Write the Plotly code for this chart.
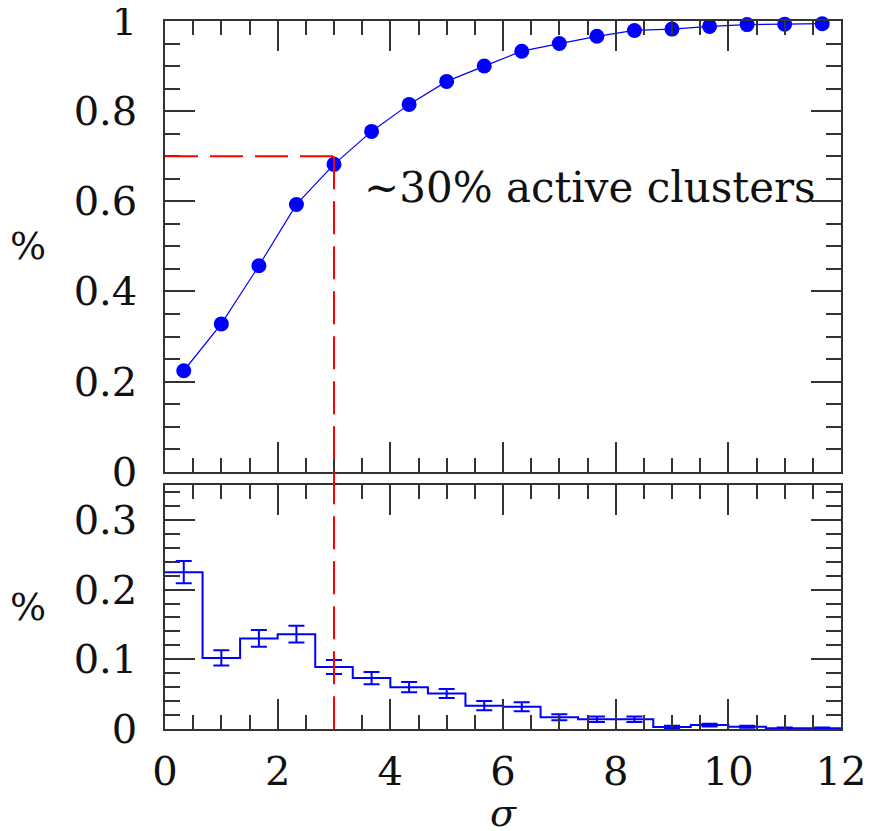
import plotly.graph_objects as go

# ---------------- data ----------------
sigma_centers = [0.333, 1.0, 1.667, 2.333, 3.0, 3.667, 4.333, 5.0, 5.667,
                 6.333, 7.0, 7.667, 8.333, 9.0, 9.667, 10.333, 11.0, 11.667]
cumulative_frac = [0.224, 0.328, 0.457, 0.593, 0.682, 0.755, 0.815, 0.866, 0.900,
                   0.933, 0.950, 0.966, 0.979, 0.982, 0.988, 0.992, 0.993, 0.994]

bin_edges = [0.0, 0.667, 1.333, 2.0, 2.667, 3.333, 4.0, 4.667, 5.333,
             6.0, 6.667, 7.333, 8.0, 8.667, 9.333, 10.0, 10.667, 11.333, 12.0]
hist_frac = [0.225, 0.102, 0.130, 0.136, 0.089, 0.073, 0.060, 0.051, 0.0335,
             0.032, 0.017, 0.014, 0.014, 0.003, 0.0057, 0.0033, 0.001, 0.001]
hist_err = [0.016, 0.011, 0.012, 0.012, 0.010, 0.0087, 0.0074, 0.0065, 0.0065,
            0.0065, 0.0043, 0.0038, 0.0038, 0.0015, 0.002, 0.0015, 0.001, 0.001]

threshold_sigma = 3.0
threshold_frac = 0.7
annotation_text = "∼30% active clusters"
x_ticks = [0, 2, 4, 6, 8, 10, 12]
top_y_ticks = [0, 0.2, 0.4, 0.6, 0.8, 1]
top_y_labels = ["0", "0.2", "0.4", "0.6", "0.8", "1"]
bot_y_ticks = [0, 0.1, 0.2, 0.3]
bot_y_labels = ["0", "0.1", "0.2", "0.3"]

# ---------------- style ----------------
FONT = "DejaVu Serif"
BLUE = "#0000ff"
RED = "#ff0000"
FRAME = "#333333"
TEXT = "#111111"
TOP_DOMAIN = [0.3634, 1.0]
BOT_DOMAIN = [0.0, 0.3446]
TOP_RANGE = [0, 1]
BOT_RANGE = [0, 0.35]

fig = go.Figure()

# top: cumulative fraction
fig.add_trace(go.Scatter(
    x=sigma_centers, y=cumulative_frac, mode="lines+markers",
    line=dict(color=BLUE, width=1.2),
    marker=dict(color=BLUE, size=15),
    xaxis="x", yaxis="y", showlegend=False, hoverinfo="skip", cliponaxis=False))

# bottom: histogram steps
step_x = bin_edges
step_y = hist_frac + [hist_frac[-1]]
fig.add_trace(go.Scatter(
    x=step_x, y=step_y, mode="lines", line=dict(color=BLUE, width=2, shape="hv"),
    xaxis="x2", yaxis="y2", showlegend=False, hoverinfo="skip"))

fig.add_trace(go.Scatter(
    x=sigma_centers, y=hist_frac, mode="markers",
    marker=dict(size=1, color="rgba(0,0,0,0)"),
    error_y=dict(type="data", array=hist_err, color=BLUE, thickness=2, width=8),
    xaxis="x2", yaxis="y2", showlegend=False, hoverinfo="skip"))

axis_common = dict(
    showline=True, linecolor=FRAME, linewidth=1.5, mirror="allticks",
    ticks="inside", ticklen=30, tickwidth=1.5, tickcolor=FRAME,
    showgrid=False, zeroline=False, automargin=False, ticklabeloverflow="allow",
    tickfont=dict(family=FONT, size=40, color=TEXT),
)
minor_x = dict(dtick=0.5, ticklen=14, tickwidth=1.5, tickcolor=FRAME, ticks="inside")

top_y_px = TOP_DOMAIN[0] + (threshold_frac - TOP_RANGE[0]) / (TOP_RANGE[1] - TOP_RANGE[0]) * (TOP_DOMAIN[1] - TOP_DOMAIN[0])

fig.update_layout(
    width=871, height=831,
    margin=dict(l=157, r=37.5, t=13, b=110, autoexpand=False),
    paper_bgcolor="white", plot_bgcolor="white",
    xaxis=dict(axis_common, domain=[0, 1], anchor="y", range=[0, 12],
               tickvals=x_ticks, showticklabels=False, minor=minor_x),
    yaxis=dict(axis_common, domain=TOP_DOMAIN, anchor="x", range=TOP_RANGE,
               tickvals=top_y_ticks, ticktext=top_y_labels, ticklabelstandoff=18,
               minor=dict(dtick=0.05, ticklen=15, tickwidth=1.5, tickcolor=FRAME, ticks="inside")),
    xaxis2=dict(axis_common, domain=[0, 1], anchor="y2", range=[0, 12],
                tickvals=x_ticks, ticklabelstandoff=6, minor=minor_x),
    yaxis2=dict(axis_common, domain=BOT_DOMAIN, anchor="x2", range=BOT_RANGE,
                tickvals=bot_y_ticks, ticktext=bot_y_labels, ticklabelstandoff=18,
                minor=dict(dtick=0.02, ticklen=15, tickwidth=1.5, tickcolor=FRAME, ticks="inside")),
    shapes=[
        dict(type="line", xref="x", yref="y", x0=0, x1=threshold_sigma,
             y0=threshold_frac, y1=threshold_frac,
             line=dict(color=RED, width=2, dash="33px,12px")),
        dict(type="line", xref="x", yref="paper", x0=threshold_sigma, x1=threshold_sigma,
             y0=top_y_px, y1=BOT_DOMAIN[0],
             line=dict(color=RED, width=2, dash="33px,12px")),
    ],
    annotations=[
        dict(text=annotation_text, xref="x", yref="y", x=3.5, y=0.63,
             xanchor="left", yanchor="middle", showarrow=False,
             font=dict(family=FONT, size=42, color=TEXT)),
        dict(text="%", xref="paper", yref="paper", x=0,
             y=(TOP_DOMAIN[0] + TOP_DOMAIN[1]) / 2, xshift=-137,
             xanchor="center", yanchor="middle", showarrow=False,
             font=dict(family=FONT, size=38, color=TEXT)),
        dict(text="%", xref="paper", yref="paper", x=0,
             y=(BOT_DOMAIN[0] + BOT_DOMAIN[1]) / 2, xshift=-137,
             xanchor="center", yanchor="middle", showarrow=False,
             font=dict(family=FONT, size=38, color=TEXT)),
        dict(text="<i>σ</i>", xref="x2", yref="paper", x=6, y=0, yshift=-84,
             xanchor="center", yanchor="middle", showarrow=False,
             font=dict(family=FONT, size=38, color=TEXT)),
    ],
)

fig.write_html("out.html")
